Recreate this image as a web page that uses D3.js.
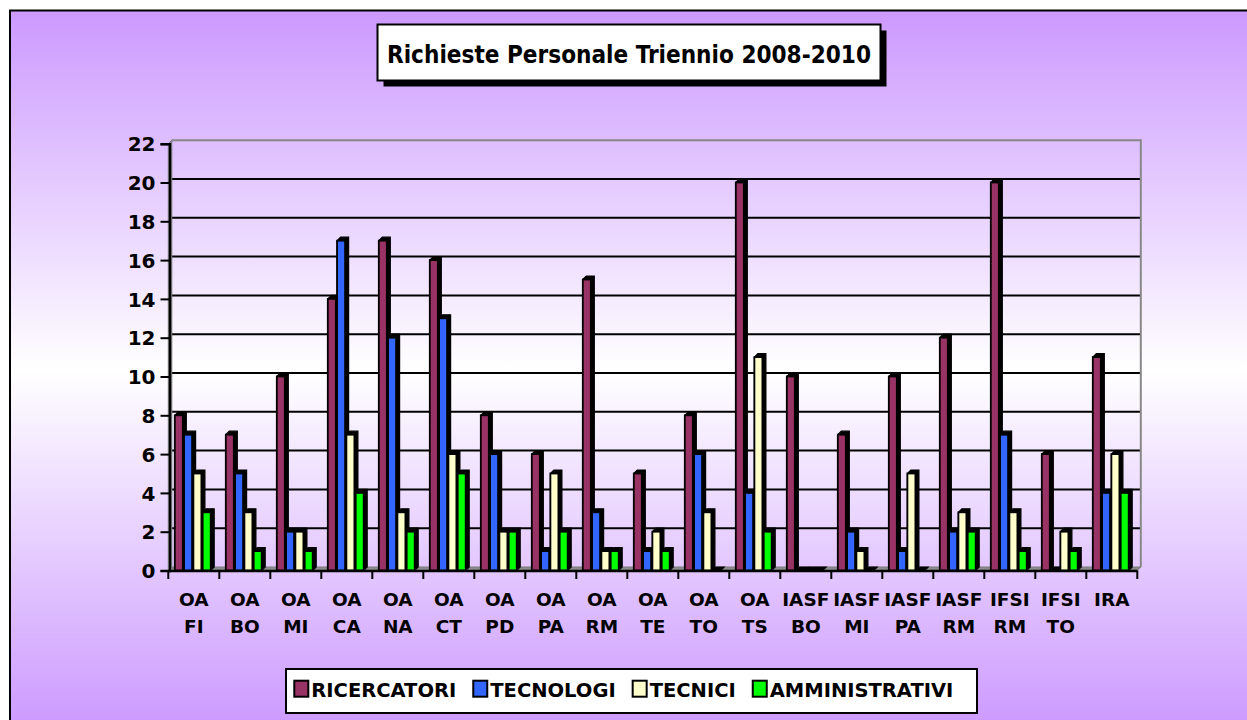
<!DOCTYPE html>
<html>
<head>
<meta charset="utf-8">
<script src="https://cdn.jsdelivr.net/npm/d3@7"></script>
<style>
  html, body { margin: 0; padding: 0; background: #ffffff; }
  svg { display: block; }
  text { font-family: 'DejaVu Sans', sans-serif; font-weight: bold; fill: #000; }
  text.cond { font-family: 'DejaVu Sans Condensed', 'DejaVu Sans', sans-serif; }
</style>
</head>
<body>
<svg id="chart" width="1247" height="720"></svg>
<script>
// ---- data ----
const title = "Richieste Personale Triennio 2008-2010";
const categories = ["OA FI","OA BO","OA MI","OA CA","OA NA","OA CT","OA PD","OA PA","OA RM","OA TE",
                    "OA TO","OA TS","IASF BO","IASF MI","IASF PA","IASF RM","IFSI RM","IFSI TO","IRA"];
const seriesNames = ["RICERCATORI","TECNOLOGI","TECNICI","AMMINISTRATIVI"];
const ricercatori    = [8, 7, 10, 14, 17, 16, 8, 6, 15, 5, 8, 20, 10, 7, 10, 12, 20, 6, 11];
const tecnologi      = [7, 5, 2, 17, 12, 13, 6, 1, 3, 1, 6, 4, 0, 2, 1, 2, 7, 0, 4];
const tecnici        = [5, 3, 2, 7, 3, 6, 2, 5, 1, 2, 3, 11, 0, 1, 5, 3, 3, 2, 6];
const amministrativi = [3, 1, 1, 4, 2, 5, 2, 2, 1, 1, 0, 2, 0, 0, 0, 2, 1, 1, 4];
const yTicks = [0, 2, 4, 6, 8, 10, 12, 14, 16, 18, 20, 22];
const seriesColors = ["#993366", "#3366FF", "#FFFFCC", "#00FF00"];
const seriesValues = [ricercatori, tecnologi, tecnici, amministrativi];

// ---- layout ----
const svg = d3.select("#chart");
const defs = svg.append("defs");
const grad = defs.append("linearGradient").attr("id", "bg")
  .attr("x1", 0).attr("y1", 0).attr("x2", 0).attr("y2", 1);
grad.append("stop").attr("offset", "0%").attr("stop-color", "#cc99ff");
grad.append("stop").attr("offset", "50%").attr("stop-color", "#ffffff");
grad.append("stop").attr("offset", "100%").attr("stop-color", "#cc99ff");

// outer frame
svg.append("rect").attr("x", 10).attr("y", 10.5).attr("width", 1260).attr("height", 720)
  .attr("fill", "url(#bg)").attr("stroke", "#000").attr("stroke-width", 2);

const depth = 3.5;
const x = d3.scaleBand().domain(categories).range([168.3, 1137.3]).padding(0);
const sub = d3.scaleBand().domain(seriesNames).range([6.5, 6.5 + 4 * 9.3]).padding(0);
const barW = 8;
const y = d3.scaleLinear().domain([0, 22]).range([570.5, 143.7]);

const plotLeft = x.range()[0], plotRight = x.range()[1];

// walls
const walls = svg.append("g");
walls.selectAll("line.grid").data(yTicks.filter(d => d > 0 && d < 22)).enter().append("line")
  .attr("class", "grid")
  .attr("x1", plotLeft + depth).attr("x2", plotRight + depth)
  .attr("y1", d => y(d) - depth).attr("y2", d => y(d) - depth)
  .attr("stroke", "#000").attr("stroke-width", 2);
walls.append("path")
  .attr("d", `M${plotLeft + depth},${y(22) - depth} H${plotRight + depth} V${y(0) - depth}`)
  .attr("fill", "none").attr("stroke", "#888").attr("stroke-width", 2);
walls.append("path")
  .attr("d", `M${plotLeft},${y(22)} L${plotLeft + depth},${y(22) - depth} L${plotLeft + depth},${y(0) - depth} L${plotLeft},${y(0)} Z`)
  .attr("fill", "#8c8c8c").attr("stroke", "#7a7a7a").attr("stroke-width", 1);
walls.append("path")
  .attr("d", `M${plotLeft},${y(0)} L${plotLeft + depth},${y(0) - depth} L${plotRight + depth},${y(0) - depth} L${plotRight},${y(0)} Z`)
  .attr("fill", "#8c8c8c").attr("stroke", "#7a7a7a").attr("stroke-width", 1);

// bars
const barsG = svg.append("g");
categories.forEach((cat, ci) => {
  seriesNames.forEach((s, si) => {
    const v = seriesValues[si][ci];
    const x0 = x(cat) + sub(s);
    const yt = y(v), yb = y(0);
    barsG.append("path")
      .attr("d", `M${x0},${yt} L${x0 + depth},${yt - depth} L${x0 + barW + depth},${yt - depth} L${x0 + barW + depth},${yb - depth} L${x0 + barW},${yb} L${x0},${yb} Z`)
      .attr("fill", "#000").attr("stroke", "#000").attr("stroke-width", 1.2);
    barsG.append("rect")
      .attr("x", x0).attr("y", yt).attr("width", barW).attr("height", Math.max(0, yb - yt))
      .attr("fill", seriesColors[si]).attr("stroke", "#000").attr("stroke-width", 1.8);
  });
});

// y axis
const yAxis = d3.axisLeft(y).tickValues(yTicks).tickSize(9).tickPadding(5).tickFormat(d3.format("d"));
const yg = svg.append("g").attr("transform", `translate(${plotLeft + 1.2},0)`).call(yAxis);
yg.select(".domain").attr("stroke", "#000").attr("stroke-width", 2.4);
yg.selectAll(".tick line").attr("stroke", "#000").attr("stroke-width", 2);
yg.selectAll(".tick text").attr("font-size", 20).attr("font-family", null).attr("dy", "0.36em");

// x axis line & ticks at category boundaries
const xg = svg.append("g");
xg.append("line").attr("x1", plotLeft).attr("x2", plotRight)
  .attr("y1", y(0) + 0.5).attr("y2", y(0) + 0.5).attr("stroke", "#000").attr("stroke-width", 2.4);
const bounds = categories.map(c => x(c)).concat([plotRight]);
xg.selectAll("line.tk").data(bounds).enter().append("line")
  .attr("x1", d => d).attr("x2", d => d).attr("y1", y(0)).attr("y2", y(0) + 8.5)
  .attr("stroke", "#000").attr("stroke-width", 2);
categories.forEach(cat => {
  const parts = cat.split(" ");
  const cx = x(cat) + x.bandwidth() / 2;
  parts.forEach((p, i) => {
    xg.append("text").attr("x", cx).attr("y", 606 + i * 27)
      .attr("text-anchor", "middle").attr("font-size", 18.5).text(p);
  });
});

// title
const tb = { x: 377.5, y: 24.5, w: 503, h: 56 };
svg.append("rect").attr("x", tb.x + 6).attr("y", tb.y + 6).attr("width", tb.w).attr("height", tb.h).attr("fill", "#000");
svg.append("rect").attr("x", tb.x).attr("y", tb.y).attr("width", tb.w).attr("height", tb.h)
  .attr("fill", "#fff").attr("stroke", "#000").attr("stroke-width", 2);
svg.append("text").attr("class", "cond").attr("x", tb.x + tb.w / 2).attr("y", 62.5).attr("text-anchor", "middle")
  .attr("font-size", 25.5).attr("textLength", 484).attr("lengthAdjust", "spacingAndGlyphs").text(title);

// legend
const lg = svg.append("g");
lg.append("rect").attr("x", 286).attr("y", 669).attr("width", 691).attr("height", 44)
  .attr("fill", "#fff").attr("stroke", "#000").attr("stroke-width", 2);
let cursor = 294.3;
seriesNames.forEach((s, i) => {
  lg.append("rect").attr("x", cursor).attr("y", 680.7).attr("width", 14).attr("height", 16)
    .attr("fill", seriesColors[i]).attr("stroke", "#000").attr("stroke-width", 2);
  const t = lg.append("text").attr("x", cursor + 17).attr("y", 696.7).attr("font-size", 19.5).text(s);
  const w = t.node().getComputedTextLength();
  cursor += 17 + w + 17;
});
</script>
</body>
</html>
